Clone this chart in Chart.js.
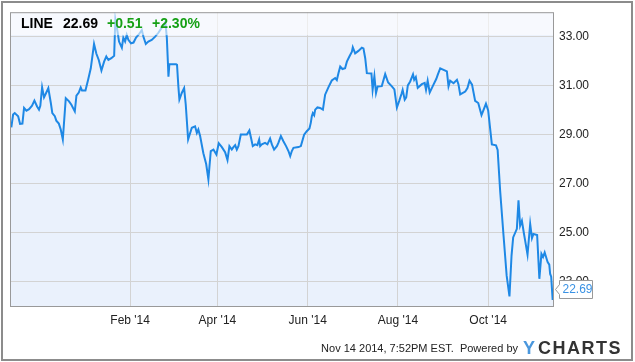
<!DOCTYPE html>
<html>
<head>
<meta charset="utf-8">
<script src="https://cdn.jsdelivr.net/npm/chart.js@4/dist/chart.umd.min.js"></script>
<style>
  html, body { margin: 0; padding: 0; background: #fff; }
  #wrap { width: 635px; height: 362px; }
</style>
</head>
<body>
<div id="wrap"><canvas id="chart" width="635" height="362"></canvas></div>
<script>
// LINE daily close, Nov 14 2013 - Nov 14 2014 (x = days since Nov 14 2013)
const days = [
  -1.3, -0.1, 1.0, 3.3, 4.6, 6.2, 7.3, 8.9, 10.7, 12.7, 14.3, 16.1, 17.4, 18.3, 19.5, 20.8,
  22.2, 23.7, 25.4, 26.4, 28.1, 29.1, 30.8, 32.1, 33.5, 35.5, 37.7, 39.3, 41.6, 42.7, 44.3, 45.6,
  46.5, 48.8, 50.6, 52.4, 54.6, 56.2, 57.8, 59.6, 61.4, 62.9, 64.3, 66.3, 68.2, 69.0, 70.5, 71.5,
  73.4, 74.4, 75.6, 76.7, 77.8, 79.6, 81.3, 83.0, 84.7, 86.9, 88.0, 89.6, 91.3, 93.6, 95.9, 98.1,
  100.4, 102.2, 102.8, 103.8, 104.5, 104.9, 105.5, 110.1, 110.7, 111.6, 112.3, 113.9, 115.5, 116.6, 118.2, 120.7,
  122.9, 124.1, 125.1, 126.3, 128.5, 130.4, 131.9, 133.5, 135.3, 137.3, 138.9, 141.0, 143.2, 144.8, 146.1, 147.7,
  148.8, 150.0, 151.1, 152.2, 153.8, 155.6, 157.9, 159.6, 160.8, 161.9, 163.5, 165.0, 166.2, 166.9, 168.0, 170.2,
  171.8, 173.6, 174.8, 176.3, 178.2, 179.2, 180.9, 182.6, 184.4, 186.0, 187.2, 188.3, 189.4, 192.8, 194.4, 196.6,
  198.4, 200.2, 201.1, 201.8, 202.5, 203.4, 204.1, 205.6, 207.4, 209.3, 210.8, 213.0, 215.3, 217.6, 218.7, 219.8,
  221.0, 222.5, 224.3, 225.5, 227.2, 228.9, 229.5, 231.1, 233.3, 235.6, 236.7, 237.9, 239.0, 242.1, 242.9, 244.1,
  245.2, 246.3, 249.1, 251.4, 253.4, 255.9, 257.6, 259.3, 261.0, 262.5, 263.2, 264.6, 265.6, 266.7, 268.3, 270.2,
  271.0, 272.1, 273.4, 276.2, 278.1, 279.0, 280.1, 281.5, 283.8, 285.9, 286.9, 288.6, 293.1, 294.2, 295.3, 297.6,
  299.9, 300.9, 302.1, 305.5, 307.0, 308.4, 310.1, 312.2, 314.3, 316.5, 319.5, 321.0, 323.5, 326.3, 327.4, 329.1,
  331.4, 333.5, 335.4, 336.8, 337.9, 340.4, 341.5, 342.6, 343.8, 345.2, 346.0, 347.6, 349.4, 350.6, 351.6, 354.1,
  355.6, 357.0, 358.1, 359.2, 361.2, 362.3, 362.9, 363.6, 364.6, 365.3
];
const prices = [
  29.30, 29.82, 29.88, 29.75, 29.44, 29.45, 30.09, 29.98, 30.04, 30.18, 30.39, 30.15, 30.02, 30.18, 30.93, 30.52,
  30.70, 30.90, 30.29, 29.88, 29.75, 29.57, 29.45, 29.21, 28.80, 30.49, 30.36, 30.22, 29.95, 30.59, 30.72, 30.93,
  30.80, 30.80, 31.24, 31.71, 32.70, 32.30, 32.05, 31.62, 31.98, 32.19, 32.05, 32.12, 32.22, 33.71, 33.20, 32.80,
  32.55, 32.96, 32.80, 33.07, 32.87, 32.73, 32.76, 32.96, 33.08, 33.27, 33.00, 32.70, 32.80, 32.87, 33.00, 33.16,
  33.37, 33.53, 33.61, 32.96, 31.98, 31.37, 31.87, 31.87, 31.85, 30.97, 30.43, 30.70, 30.90, 30.22, 28.80, 29.28,
  29.34, 29.07, 29.21, 28.94, 28.24, 27.80, 27.17, 28.33, 28.39, 28.19, 28.65, 28.49, 28.28, 27.96, 28.53, 28.39,
  28.49, 28.57, 28.39, 28.53, 29.00, 29.00, 29.00, 29.17, 28.84, 28.53, 28.60, 28.57, 28.80, 28.53, 28.60, 28.66,
  28.60, 28.84, 28.60, 28.39, 28.53, 28.66, 28.94, 28.73, 28.53, 28.33, 28.12, 28.33, 28.46, 28.49, 28.53, 29.00,
  29.14, 29.25, 29.48, 29.75, 29.88, 29.79, 30.02, 30.11, 30.09, 30.02, 30.63, 30.93, 31.21, 31.31, 31.23, 31.51,
  31.78, 31.68, 31.71, 31.98, 32.19, 32.39, 32.57, 32.32, 32.42, 32.55, 32.52, 32.12, 31.51, 31.50, 30.83, 31.39,
  30.70, 30.97, 30.98, 31.47, 31.13, 30.97, 30.85, 30.11, 30.40, 30.68, 30.83, 30.43, 30.52, 31.01, 31.17, 31.46,
  31.24, 31.35, 30.91, 31.06, 31.11, 30.83, 31.20, 30.72, 31.01, 31.27, 31.44, 31.71, 31.58, 30.97, 31.20, 31.10,
  31.24, 31.06, 30.64, 30.76, 30.90, 31.20, 31.04, 30.38, 30.29, 29.80, 30.26, 29.99, 28.60, 28.56, 28.37, 26.70,
  24.87, 23.24, 22.39, 24.06, 24.80, 25.15, 26.32, 25.28, 25.48, 24.95, 24.67, 24.10, 25.35, 24.77, 24.94, 24.90,
  23.11, 24.13, 24.00, 24.19, 23.79, 23.69, 23.31, 23.20, 22.25, 22.69
];

const tickDays = [79, 138, 199, 260, 321];
const tickLabels = ["Feb '14", "Apr '14", "Jun '14", "Aug '14", "Oct '14"];
const yTickValues = [23, 25, 27, 29, 31, 33];

const symbol = 'LINE';
const lastPrice = '22.69';
const change = '+0.51';
const changePct = '+2.30%';
const footerText = 'Nov 14 2014, 7:52PM EST.  Powered by';

const FONT = '"Liberation Sans", Arial, Helvetica, sans-serif';
const LINE_COLOR = '#1e88e5';

const ychartsDecor = {
    id: 'ychartsDecor',
    beforeDraw(chart) {
        const ctx = chart.ctx;
        const a = chart.chartArea;
        ctx.save();
        ctx.fillStyle = '#ffffff';
        ctx.fillRect(0, 0, chart.width, chart.height);
        // outer frame
        ctx.strokeStyle = '#8c8c8c';
        ctx.lineWidth = 2;
        ctx.strokeRect(2, 2, 630, 358);
        // plot background
        ctx.fillStyle = '#eaf1fc';
        ctx.fillRect(a.left, a.top, a.right - a.left, a.bottom - a.top);
        ctx.restore();
    },
    afterDatasetsDraw(chart) {
        const ctx = chart.ctx;
        const a = chart.chartArea;
        ctx.save();
        // header band
        ctx.fillStyle = 'rgba(255,255,255,0.6)';
        ctx.fillRect(a.left, a.top, a.right - a.left, 23);
        ctx.textBaseline = 'alphabetic';
        ctx.font = 'bold 14px ' + FONT;
        ctx.fillStyle = '#000000';
        ctx.fillText(symbol, 21, 28);
        ctx.fillText(lastPrice, 63, 28);
        ctx.fillStyle = '#16a016';
        ctx.fillText(change, 107, 28);
        ctx.fillText(changePct, 152, 28);
        ctx.restore();
    },
    afterDraw(chart) {
        const ctx = chart.ctx;
        const a = chart.chartArea;
        ctx.save();
        // plot border
        ctx.strokeStyle = '#999999';
        ctx.lineWidth = 1;
        ctx.strokeRect(a.left + 0.5, a.top + 0.5, a.right - a.left - 1, a.bottom - a.top);

        // last value flag
        const y = Math.round(chart.scales.y.getPixelForValue(prices[prices.length - 1])) + 0.5;
        const x0 = 559.5;
        ctx.beginPath();
        ctx.moveTo(x0, y - 9);
        ctx.lineTo(x0 + 33, y - 9);
        ctx.lineTo(x0 + 33, y + 9);
        ctx.lineTo(x0, y + 9);
        ctx.lineTo(x0, y + 5);
        ctx.lineTo(x0 - 4, y);
        ctx.lineTo(x0, y - 5);
        ctx.closePath();
        ctx.fillStyle = '#ffffff';
        ctx.fill();
        ctx.strokeStyle = '#999999';
        ctx.stroke();
        ctx.fillStyle = '#3a92e4';
        ctx.font = '12px ' + FONT;
        ctx.textBaseline = 'middle';
        ctx.fillText(lastPrice, x0 + 3, y + 0.5);

        // footer
        ctx.fillStyle = '#222222';
        ctx.font = '11px ' + FONT;
        ctx.textAlign = 'right';
        ctx.fillText(footerText, 518, 349);
        ctx.textAlign = 'left';
        ctx.font = 'bold 18px ' + FONT;
        ctx.letterSpacing = '1.5px';
        ctx.fillStyle = '#4a97dd';
        ctx.fillText('Y', 523, 349);
        ctx.fillStyle = '#333333';
        ctx.fillText('CHARTS', 538, 349);
        ctx.restore();
    }
};

new Chart(document.getElementById('chart').getContext('2d'), {
    type: 'line',
    data: {
        datasets: [{
            data: days.map((d, i) => ({ x: d, y: prices[i] })),
            borderColor: LINE_COLOR,
            borderWidth: 2,
            pointRadius: 0,
            tension: 0,
            fill: false
        }]
    },
    options: {
        responsive: false,
        animation: false,
        layout: { padding: { left: 10, top: 10, right: 0, bottom: 0 } },
        plugins: {
            legend: { display: false },
            tooltip: { enabled: false }
        },
        scales: {
            x: {
                type: 'linear',
                min: -2.2,
                max: 365.5,
                afterBuildTicks: scale => {
                    scale.ticks = tickDays.map(v => ({ value: v }));
                },
                afterFit: scale => { scale.height = 56; },
                ticks: {
                    autoSkip: false,
                    maxRotation: 0,
                    padding: 7,
                    color: '#222222',
                    font: { family: FONT, size: 12 },
                    callback: (value, index) => tickLabels[index]
                },
                grid: { color: '#d3d3d3', lineWidth: 1, drawTicks: false },
                border: { display: false }
            },
            y: {
                position: 'right',
                min: 22,
                max: 34,
                afterBuildTicks: scale => {
                    scale.ticks = yTickValues.map(v => ({ value: v }));
                },
                afterFit: scale => { scale.width = 81; },
                ticks: {
                    padding: 5,
                    color: '#222222',
                    font: { family: FONT, size: 12 },
                    callback: value => value.toFixed(2)
                },
                grid: { color: '#d3d3d3', lineWidth: 1, drawTicks: false },
                border: { display: false }
            }
        }
    },
    plugins: [ychartsDecor]
});
</script>
</body>
</html>
